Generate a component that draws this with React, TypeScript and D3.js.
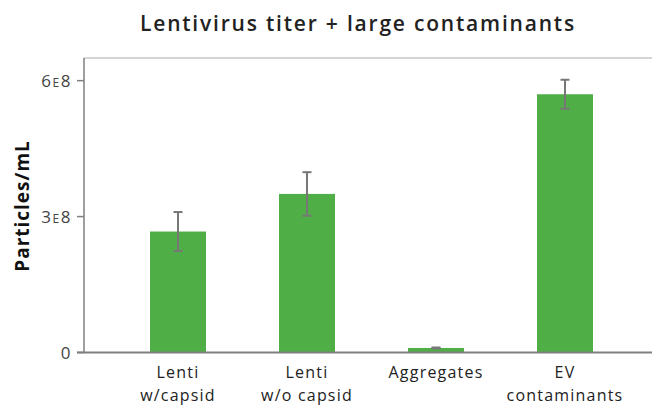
import React from "react";
import * as d3 from "d3";

const categories = ["Lenti|w/capsid", "Lenti|w/o capsid", "Aggregates", "EV|contaminants"];
const values = [2.67e8, 3.5e8, 0.1e8, 5.7e8];
const errors = [0.43e8, 0.48e8, 0.01e8, 0.32e8];
const yTicks = [0, 3e8, 6e8];
const yTickLabels = [["0", "", ""], ["3", "E", "8"], ["6", "E", "8"]];

const W = 652;
const H = 405;
const FONT = "'Open Sans', Lato, sans-serif";

export default function App() {
  const x = d3
    .scaleBand<string>()
    .domain(categories)
    .range([113.5, 629.5])
    .paddingInner(0.566)
    .paddingOuter(0.283);
  const y = d3.scaleLinear().domain([0, 6.5e8]).range([352.5, 58]);
  const axisX = 84;
  const axisColor = "#7f7f7f";

  return (
    <svg width={W} height={H} style={{ position: "absolute", left: 0, top: 0 }}>
      <rect width={W} height={H} fill="#fff" />
      <text x={358} y={31} textAnchor="middle" fontFamily={FONT} fontWeight={600} fontSize={21} letterSpacing={1.8} fill="#222">
        Lentivirus titer + large contaminants
      </text>
      {/* frame top */}
      <line x1={axisX} x2={W} y1={y(6.5e8)} y2={y(6.5e8)} stroke="#aaa" strokeWidth={1} />
      {/* bars */}
      {categories.map((c, i) => (
        <rect key={c} x={x(c)} y={y(values[i])} width={x.bandwidth()} height={y(0) - y(values[i])} fill="#50ae47" />
      ))}
      {/* error bars */}
      {categories.map((c, i) => {
        const cx = (x(c) as number) + x.bandwidth() / 2;
        const t = y(values[i] + errors[i]);
        const b = y(values[i] - errors[i]);
        return (
          <g key={c + "e"} stroke="#777" strokeWidth={2}>
            <line x1={cx} x2={cx} y1={t} y2={b} />
            <line x1={cx - 4.5} x2={cx + 4.5} y1={t} y2={t} />
            <line x1={cx - 4.5} x2={cx + 4.5} y1={b} y2={b} />
          </g>
        );
      })}
      {/* axes */}
      <line x1={axisX} x2={axisX} y1={y(6.5e8)} y2={y(0)} stroke={axisColor} strokeWidth={1.5} />
      <line x1={axisX - 7} x2={W} y1={y(0)} y2={y(0)} stroke={axisColor} strokeWidth={1.8} />
      {yTicks.map((t, i) => (
        <g key={t}>
          <line x1={axisX - 7} x2={axisX} y1={y(t)} y2={y(t)} stroke={axisColor} strokeWidth={1.5} />
          <text x={axisX - 12} y={y(t) + 6} textAnchor="end" fontFamily={FONT} fontSize={17} letterSpacing={1.5} fill="#444">
            {yTickLabels[i][0]}
            <tspan fontSize={12}>{yTickLabels[i][1]}</tspan>
            {yTickLabels[i][2]}
          </text>
        </g>
      ))}
      {/* x labels */}
      {categories.map((c) => {
        const cx = (x(c) as number) + x.bandwidth() / 2;
        const lines = c.split("|");
        return (
          <text key={c + "l"} textAnchor="middle" fontFamily={FONT} fontSize={16} letterSpacing={1.2} fill="#222">
            {lines.map((l, j) => (
              <tspan key={j} x={cx} y={378 + j * 23}>
                {l}
              </tspan>
            ))}
          </text>
        );
      })}
      <text
        transform={`translate(29,206) rotate(-90)`}
        textAnchor="middle"
        fontFamily={FONT}
        fontWeight={700}
        fontSize={19}
        letterSpacing={1}
        fill="#111"
      >
        Particles/mL
      </text>
    </svg>
  );
}
